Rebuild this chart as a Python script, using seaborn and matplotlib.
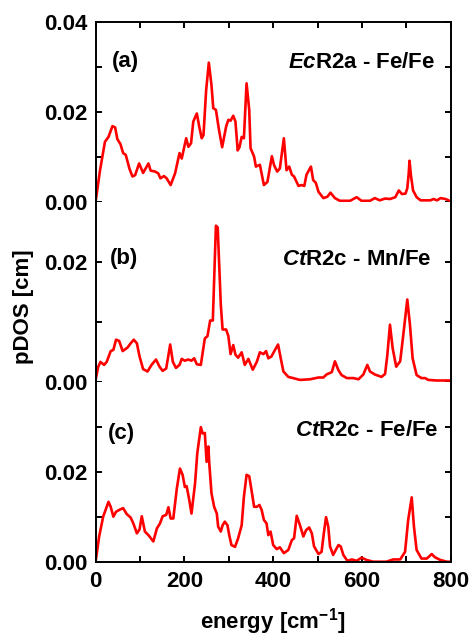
import matplotlib
matplotlib.use("Agg")
import matplotlib.pyplot as plt
import seaborn as sns
from matplotlib.ticker import FormatStrFormatter, MultipleLocator

# panel (a) EcR2a - Fe/Fe
energy_a = [0, 10, 21, 29, 38, 44, 49, 56, 62, 68, 76, 83, 89, 98, 107, 119, 124, 134,
            141, 146, 154, 160, 169, 179, 189, 194, 204, 209, 215, 220, 228, 234, 239,
            243, 249, 255, 261, 265, 271, 278, 285, 294, 299, 304, 310, 315, 320, 324,
            329, 334, 340, 346, 349, 357, 361, 370, 379, 387, 397, 402, 409, 415, 424,
            430, 436, 442, 447, 457, 464, 470, 475, 485, 490, 496, 502, 513, 522, 529,
            539, 550, 573, 588, 599, 618, 629, 640, 652, 663, 675, 683, 690, 698, 702,
            705, 707, 710, 715, 723, 732, 754, 761, 769, 777, 788, 800]
pdos_a = [0.0, 0.007, 0.0133, 0.0144, 0.0168, 0.0165, 0.0139, 0.0128, 0.0108, 0.0104,
          0.0074, 0.0056, 0.0059, 0.0085, 0.0064, 0.0085, 0.0069, 0.0067, 0.0063, 0.0052,
          0.0057, 0.0052, 0.0037, 0.0063, 0.0108, 0.0096, 0.0141, 0.0122, 0.013, 0.0178,
          0.0196, 0.0164, 0.0141, 0.0148, 0.0248, 0.0309, 0.0259, 0.0208, 0.0204, 0.0159,
          0.0121, 0.0167, 0.0182, 0.018, 0.0191, 0.0178, 0.0114, 0.0121, 0.0144, 0.0141,
          0.0263, 0.0204, 0.0119, 0.01, 0.0078, 0.0082, 0.0037, 0.0044, 0.0101, 0.0081,
          0.0067, 0.0074, 0.0141, 0.007, 0.0078, 0.006, 0.0056, 0.0035, 0.0037, 0.0035,
          0.006, 0.0078, 0.0048, 0.0042, 0.0022, 0.0008, 0.0011, 0.002, 0.0008, 0.0002,
          0.0002, 0.001, 0.0002, 0.0002, 0.0008, 0.0003, 0.0007, 0.0006, 0.001, 0.0025,
          0.0017, 0.0018, 0.003, 0.006, 0.0091, 0.006, 0.0025, 0.001, 0.0003, 0.0003,
          0.0006, 0.0003, 0.0008, 0.0006, 0.0001]

# panel (b) CtR2c - Mn/Fe
energy_b = [0, 6, 11, 19, 25, 34, 40, 46, 53, 61, 72, 79, 86, 93, 99, 107, 117, 126,
            136, 144, 151, 159, 168, 174, 181, 189, 194, 201, 209, 216, 222, 228, 237,
            246, 252, 258, 264, 271, 275, 282, 286, 294, 299, 304, 310, 315, 321, 329,
            336, 344, 354, 363, 370, 378, 384, 389, 396, 404, 411, 417, 423, 434, 445,
            460, 483, 502, 513, 520, 532, 539, 547, 554, 566, 581, 592, 603, 612, 618,
            629, 644, 652, 657, 663, 669, 677, 686, 693, 702, 708, 714, 723, 734, 742,
            749, 768, 800]
pdos_b = [0.0003, 0.0025, 0.0033, 0.0028, 0.0033, 0.0051, 0.0053, 0.007, 0.0068, 0.0051,
          0.0057, 0.0064, 0.007, 0.0064, 0.0042, 0.0021, 0.0017, 0.0028, 0.0037, 0.0025,
          0.0018, 0.0022, 0.0062, 0.0033, 0.0023, 0.0028, 0.0038, 0.0035, 0.0037, 0.0035,
          0.0039, 0.0029, 0.0028, 0.0072, 0.0076, 0.0102, 0.0102, 0.026, 0.0257, 0.0128,
          0.0087, 0.0087, 0.0076, 0.0046, 0.0061, 0.0045, 0.004, 0.0049, 0.0028, 0.0038,
          0.002, 0.0033, 0.0049, 0.0046, 0.0051, 0.0039, 0.0042, 0.0053, 0.0062, 0.0039,
          0.0017, 0.0008, 0.0006, 0.0003, 0.0004, 0.0007, 0.0007, 0.0012, 0.0016, 0.0034,
          0.0019, 0.0011, 0.0006, 0.0006, 0.0004, 0.0012, 0.0028, 0.0017, 0.0012, 0.0008,
          0.0013, 0.0044, 0.0095, 0.0056, 0.0025, 0.0034, 0.0078, 0.0137, 0.0095, 0.0039,
          0.0011, 0.0006, 0.0006, 0.0003, 0.0002, 0.0002]

# panel (c) CtR2c - Fe/Fe
energy_c = [0, 8, 17, 29, 34, 40, 46, 55, 62, 70, 79, 85, 93, 99, 104, 111, 119, 130,
            138, 145, 151, 159, 164, 169, 175, 183, 190, 196, 201, 205, 211, 216, 224,
            229, 237, 241, 246, 250, 254, 256, 261, 267, 273, 276, 282, 286, 291, 297,
            301, 306, 314, 321, 329, 334, 340, 346, 351, 357, 363, 369, 374, 379, 385,
            389, 394, 400, 408, 415, 424, 434, 442, 447, 453, 460, 468, 474, 481, 487,
            492, 502, 509, 514, 519, 524, 528, 535, 543, 547, 552, 558, 567, 577, 588,
            599, 610, 625, 655, 670, 686, 697, 704, 712, 717, 723, 734, 746, 757, 764,
            776, 791, 800]
pdos_c = [0.0, 0.0056, 0.01, 0.0133, 0.0122, 0.01, 0.0111, 0.0116, 0.0119, 0.0106,
          0.0098, 0.0085, 0.0063, 0.0072, 0.0101, 0.0067, 0.0059, 0.0045, 0.0074, 0.0085,
          0.0101, 0.0104, 0.0121, 0.0096, 0.0096, 0.0163, 0.0207, 0.0193, 0.0166, 0.0168,
          0.0137, 0.0107, 0.0174, 0.0241, 0.0299, 0.0285, 0.0286, 0.0222, 0.0256, 0.0219,
          0.0152, 0.0122, 0.0107, 0.0078, 0.0067, 0.0081, 0.0089, 0.0081, 0.0059, 0.0037,
          0.0033, 0.0052, 0.0081, 0.0144, 0.0193, 0.019, 0.016, 0.0122, 0.0122, 0.0126,
          0.0115, 0.0093, 0.0085, 0.0059, 0.0067, 0.0037, 0.0028, 0.0032, 0.0019, 0.0026,
          0.0048, 0.0052, 0.0102, 0.0082, 0.0056, 0.007, 0.0076, 0.0063, 0.0034, 0.0017,
          0.0022, 0.0063, 0.0099, 0.0078, 0.0034, 0.0015, 0.003, 0.0037, 0.0034, 0.0015,
          0.0002, 0.0005, 0.0002, 0.0009, 0.0004, 0.0, 0.0, 0.0005, 0.0005, 0.0022,
          0.0093, 0.0143, 0.0078, 0.0026, 0.0007, 0.0007, 0.0017, 0.001, 0.0004, 0.0,
          0.0]

panel_tags = ['(a)', '(b)', '(c)']
panel_names = [r'$\mathit{Ec}$R2a - Fe/Fe', r'$\mathit{Ct}$R2c - Mn/Fe', r'$\mathit{Ct}$R2c - Fe/Fe']
y_tops = [0.04, 0.03, 0.04]
y_major = [[0, 0.02, 0.04], [0, 0.02], [0, 0.02]]
y_minor = [[0.01, 0.03], [0.01], [0.01, 0.03]]
x_ticks = [0, 200, 400, 600, 800]

sns.set_style('ticks')
plt.rcParams['font.family'] = ['Liberation Sans', 'DejaVu Sans']
plt.rcParams['font.weight'] = 'bold'
plt.rcParams['text.color'] = 'black'
plt.rcParams['axes.labelcolor'] = 'black'
plt.rcParams['xtick.color'] = 'black'
plt.rcParams['ytick.color'] = 'black'
plt.rcParams['mathtext.fontset'] = 'custom'
plt.rcParams['mathtext.rm'] = 'Liberation Sans:bold'
plt.rcParams['mathtext.it'] = 'Liberation Sans:italic:bold'
plt.rcParams['mathtext.bf'] = 'Liberation Sans:bold'

W, H = 473, 639
fig = plt.figure(figsize=(W / 100, H / 100), dpi=100)

# pixel layout of the stacked panels
left, width = 95.6, 355.2
tops = [21.7, 201.7, 381.7]
ph = 180.0
tag_pos = [(111.5, 61), (110, 258), (107.5, 434)]
name_pos = [(435, 62), (432, 259), (438, 430)]

data = [(energy_a, pdos_a), (energy_b, pdos_b), (energy_c, pdos_c)]
for i, (ex, ey) in enumerate(data):
    ax = fig.add_axes([left / W, (H - tops[i] - ph) / H, width / W, ph / H])
    sns.lineplot(x=ex, y=ey, ax=ax, color='#ff0000', lw=1.9, sort=False)
    ax.set_xlim(0, 800)
    ax.set_ylim(0, y_tops[i])

    ax.set_yticks(y_major[i])
    ax.set_yticks(y_minor[i], minor=True)
    ax.yaxis.set_major_formatter(FormatStrFormatter('%.2f'))

    for s in ax.spines.values():
        s.set_linewidth(1.4)
        s.set_color('black')
    if i > 0:
        ax.spines['top'].set_visible(False)
    if i < 2:
        ax.spines['bottom'].set_visible(False)

    ax.set_xticks(x_ticks)
    ax.xaxis.set_minor_locator(MultipleLocator(100))
    ax.tick_params(which='both', direction='in', length=4.5, width=1.4,
                   left=True, right=True, top=(i == 0), bottom=(i == 2),
                   labelbottom=(i == 2), labelsize=16)
    ax.tick_params(axis='y', pad=6)
    ax.tick_params(axis='x', pad=7)
    ax.set_xlabel('')
    ax.set_ylabel('')

    fig.text(tag_pos[i][0] / W, 1 - tag_pos[i][1] / H, panel_tags[i],
             ha='left', va='center', fontsize=16, fontweight='bold')
    fig.text(name_pos[i][0] / W, 1 - name_pos[i][1] / H, panel_names[i],
             ha='right', va='center', fontsize=16, fontweight='bold')

fig.text(24 / W, 1 - 307 / H, 'pDOS [cm]', rotation=90, ha='center', va='center',
         fontsize=16, fontweight='bold')
fig.text(273 / W, 1 - 622 / H, r'energy [cm$^{-1}$]', ha='center', va='center',
         fontsize=16, fontweight='bold')

fig.savefig('out.png', dpi=100)
